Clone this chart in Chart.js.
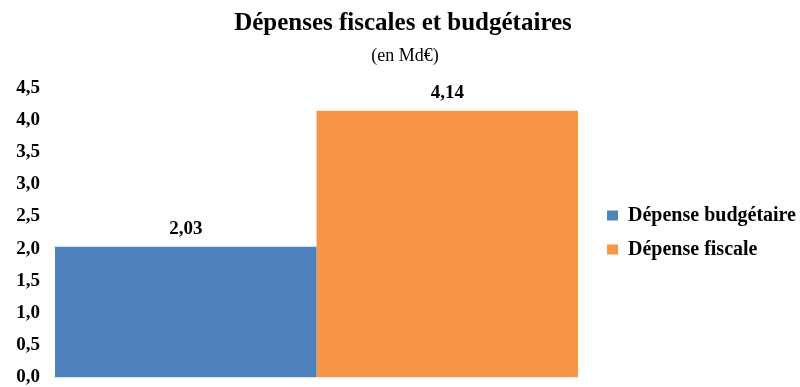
<!DOCTYPE html>
<html>
<head>
<meta charset="utf-8">
<script src="https://cdn.jsdelivr.net/npm/chart.js@4/dist/chart.umd.min.js"></script>
<style>
  html, body { margin: 0; padding: 0; background: #fff; }
  #wrap { width: 800px; height: 387px; }
</style>
</head>
<body>
<div id="wrap"><canvas id="graphique"></canvas></div>
<script>
// données
const categories = [""];
const seriesNames = ["Dépense budgétaire", "Dépense fiscale"];
const budgetaire = [2.03];
const fiscale = [4.14];
const couleurs = ["#4f81bd", "#f79646"];

const police = "'Liberation Serif', 'Times New Roman', serif";
// espaces pour recentrer le titre (la marge gauche négative le décale)
const decale = (n) => "\u2007".repeat(n);

// affiche la valeur au-dessus de chaque barre
const etiquettes = {
    id: "etiquettes",
    afterDatasetsDraw(chart) {
        const ctx = chart.ctx;
        ctx.save();
        ctx.font = "bold 19px " + police;
        ctx.fillStyle = "#000";
        ctx.textAlign = "center";
        ctx.textBaseline = "alphabetic";
        chart.data.datasets.forEach((ds, i) => {
            chart.getDatasetMeta(i).data.forEach((bar, j) => {
                const txt = ds.data[j].toFixed(2).replace(".", ",");
                ctx.fillText(txt, bar.x, bar.y - 13);
            });
        });
        ctx.restore();
    }
};

const ctx = document.getElementById("graphique").getContext("2d");
const graphique = new Chart(ctx, {
    type: "bar",
    data: {
        labels: categories,
        datasets: [
            { label: seriesNames[0], data: budgetaire, backgroundColor: couleurs[0] },
            { label: seriesNames[1], data: fiscale, backgroundColor: couleurs[1] }
        ]
    },
    options: {
        responsive: true,
        maintainAspectRatio: false,
        animation: false,
        // marge gauche négative : laisse plus de place à la légende
        layout: { padding: { top: 0, left: -50, right: -6, bottom: 0 } },
        datasets: {
            bar: { barPercentage: 1, categoryPercentage: 0.9458 }
        },
        scales: {
            x: { display: false },
            y: {
                min: 0,
                max: 4.5,
                grid: { display: false, drawTicks: false },
                border: { display: false },
                afterFit: (s) => { s.width = 90; },
                ticks: {
                    stepSize: 0.5,
                    color: "#000",
                    padding: 0,
                    font: { family: police, size: 19, weight: "bold", lineHeight: 1 },
                    callback: (v) => v.toFixed(1).replace(".", ",")
                }
            }
        },
        plugins: {
            title: {
                display: true,
                text: decale(4) + "Dépenses fiscales et budgétaires",
                color: "#000",
                font: { family: police, size: 25, weight: "bold" },
                padding: { top: 9, bottom: 4 }
            },
            subtitle: {
                display: true,
                text: decale(6) + "(en Md€)",
                color: "#000",
                font: { family: police, size: 18 },
                padding: { top: 2, bottom: 21 }
            },
            legend: {
                position: "right",
                fullSize: false,
                labels: {
                    color: "#000",
                    boxWidth: 11,
                    boxHeight: 10,
                    padding: 14,
                    font: { family: police, size: 20, weight: "bold" }
                }
            },
            tooltip: { enabled: false }
        }
    },
    plugins: [etiquettes]
});
</script>
</body>
</html>
